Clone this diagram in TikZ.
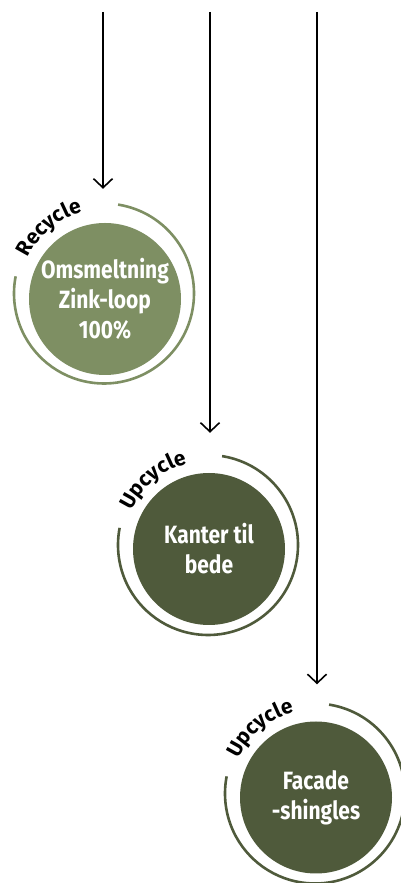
\documentclass[tikz,border=0pt]{standalone}
\usepackage{fontspec}
\usepackage{tikz}
\usetikzlibrary{
  arrows.meta,
  positioning,
  calc,
  decorations.text
}
\newfontfamily\bubblefont{Fira Sans}[FakeStretch=0.84]
\newfontfamily\ringfont{Fira Sans}
\definecolor{loopLight}{HTML}{7E8F63}
\definecolor{loopDark}{HTML}{4F5A3B}
\tikzset{
  bubble/.style={
    circle, minimum size=152pt, inner sep=0pt, align=center, text=white,
    font=\bubblefont\bfseries\fontsize{25}{30}\selectfont
  },
  ring/.style={line width=2.6pt},
  flow/.style={-{Straight Barb[length=9pt, width=19pt]}, line width=1.6pt, black},
  ringtag/.style={
    decorate, decoration={text along path, text align=center,
      text={|\ringfont\bfseries\fontsize{21}{21}\selectfont|#1}}
  }
}

\begin{document}
\begin{tikzpicture}[x=1pt, y=1pt]
  \useasboundingbox (0,0) rectangle (401,883);

  % the three end-of-life routes
  \node[bubble, fill=loopLight] (melt) at (105,584) {Omsmeltning\\Zink-loop\\100\%};
  \node[bubble, fill=loopDark] (beds) at (209,334) {Kanter til\\bede};
  \node[bubble, fill=loopDark] (shingle) at (316,85.5) {Facade\\-shingles};

  % open rings round each bubble, label sits in the gap
  \draw[ring, loopLight] ([shift={(-1,5.5)}]melt.center) ++(81:90pt)
    arc[start angle=81, end angle=-191, radius=90pt];
  \draw[ring, loopDark] ([shift={(-1,4)}]beds.center) ++(81:90pt)
    arc[start angle=81, end angle=-191, radius=90pt];
  \draw[ring, loopDark] ([shift={(-1,4)}]shingle.center) ++(81:90pt)
    arc[start angle=81, end angle=-191, radius=90pt];

  \path[ringtag=Recycle] ([shift={(-1,5.5)}]melt.center) ++(168:84pt)
    arc[start angle=168, end angle=92, radius=84pt];
  \path[ringtag=Upcycle] ([shift={(-1,4)}]beds.center) ++(168:84pt)
    arc[start angle=168, end angle=92, radius=84pt];
  \path[ringtag=Upcycle] ([shift={(-1,4)}]shingle.center) ++(168:84pt)
    arc[start angle=168, end angle=92, radius=84pt];

  % feed lines from the top
  \coordinate (src1) at (103,871);
  \coordinate (src2) at (210,871);
  \coordinate (src3) at (317,871);
  \draw[flow, shorten >=34pt] (src1) -- (src1 |- melt.north);
  \draw[flow, shorten >=40pt] (src2) -- (src2 |- beds.north);
  \draw[flow, shorten >=37pt] (src3) -- (src3 |- shingle.north);
\end{tikzpicture}
\end{document}
